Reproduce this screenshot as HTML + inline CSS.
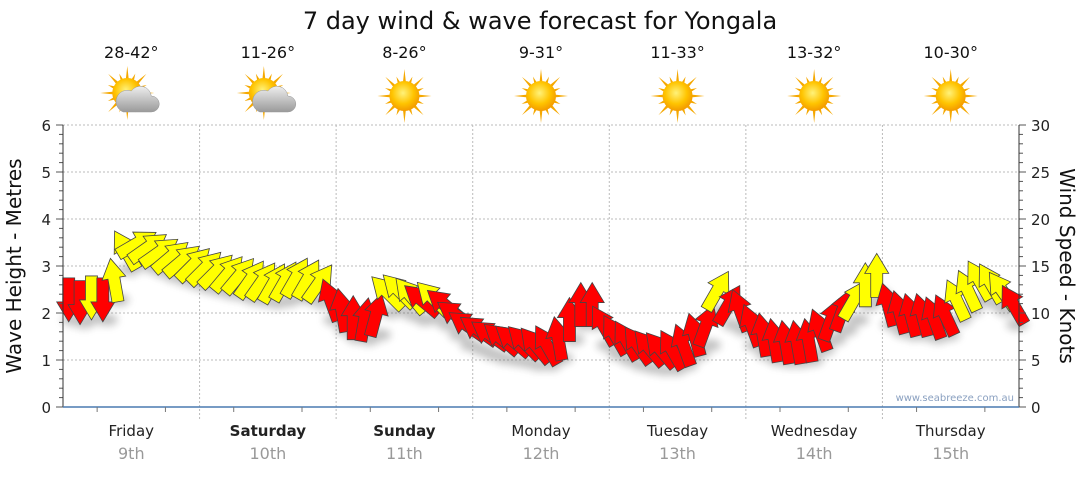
<!DOCTYPE html>
<html><head><meta charset="utf-8"><style>
body{margin:0;background:#fff;font-family:"Liberation Sans","DejaVu Sans",sans-serif}
svg text{font-family:"DejaVu Sans","Liberation Sans",sans-serif}
</style></head><body>
<svg id="c" width="1080" height="475" viewBox="0 0 1080 475" xmlns="http://www.w3.org/2000/svg">
<defs>
<filter id="sh" x="-50%" y="-50%" width="200%" height="200%"><feGaussianBlur stdDeviation="4"/></filter>
<radialGradient id="sun" cx="45%" cy="40%" r="60%"><stop offset="0" stop-color="#fff27a"/><stop offset="0.6" stop-color="#ffc400"/><stop offset="1" stop-color="#f39a00"/></radialGradient>
<linearGradient id="cloud" x1="0" y1="0" x2="0" y2="1"><stop offset="0" stop-color="#eee"/><stop offset="1" stop-color="#9a9a9a"/></linearGradient>
</defs>
<text x="540" y="29" text-anchor="middle" font-size="24" fill="#111">7 day wind &amp; wave forecast for Yongala</text>
<g id="grid"></g><g id="icons"></g><g id="shadows" filter="url(#sh)" opacity="0.35"></g><g id="marks"></g><g id="axes"></g>
<text x="1014" y="401" text-anchor="end" font-size="10" fill="#8aa0c0">www.seabreeze.com.au</text>
<text transform="translate(21,266) rotate(-90)" text-anchor="middle" font-size="20" fill="#111">Wave Height - Metres</text>
<text transform="translate(1060,266) rotate(90)" text-anchor="middle" font-size="20" fill="#111">Wind Speed - Knots</text>
</svg>
<script>
const days=["Friday","Saturday","Sunday","Monday","Tuesday","Wednesday","Thursday"];
const dates=["9th","10th","11th","12th","13th","14th","15th"];
const temps=["28-42°","11-26°","8-26°","9-31°","11-33°","13-32°","10-30°"];
const cloudy=[1,1,0,0,0,0,0];
const waveTicks=[0,1,2,3,4,5,6];
const windTicks=[0,5,10,15,20,25,30];
const windSpeed=[11.4,11.1,11.6,11.4,13.5,16.7,17.4,17.0,16.5,16.0,15.6,15.2,
14.8,14.5,14.2,14.0,13.6,13.4,13.2,13.4,13.8,13.6,13.2,11.4,
10.3,9.5,9.3,9.8,12.2,12.4,11.9,11.4,11.6,10.9,9.8,8.7,
8.2,7.7,7.3,7.1,6.9,6.6,6.6,7.3,9.3,10.9,10.9,8.7,
7.7,7.1,6.6,6.3,6.1,6.1,6.6,7.7,8.7,12.4,10.9,10.3,
8.7,7.7,7.1,6.9,6.9,7.1,8.2,9.3,10.3,11.4,13.0,14.0,
10.9,10.1,9.8,9.8,9.5,9.8,11.4,12.4,13.5,13.2,12.4,10.9];
const windDir=[180,180,180,180,-10,-30,60,55,55,50,50,45,
45,45,40,40,35,35,30,30,30,30,35,-20,
-10,0,10,15,-45,-45,-40,-50,-45,-50,-55,-55,
-55,-55,-50,-50,-45,-40,-30,-10,0,0,0,-30,
-30,-30,-35,-40,-40,-30,-20,-15,20,30,30,-20,
-20,-10,-10,-10,-10,-10,-20,20,20,30,0,0,
-15,-15,-15,-15,-20,-25,-25,-25,-30,-30,-35,-30];
const windCol=["R","R","Y","R","Y","Y","Y","Y","Y","Y","Y","Y",
"Y","Y","Y","Y","Y","Y","Y","Y","Y","Y","Y","R",
"R","R","R","R","Y","Y","Y","R","Y","R","R","R",
"R","R","R","R","R","R","R","R","R","R","R","R",
"R","R","R","R","R","R","R","R","R","Y","R","R",
"R","R","R","R","R","R","R","R","R","Y","Y","Y",
"R","R","R","R","R","R","Y","Y","Y","Y","Y","R"];
const NS="http://www.w3.org/2000/svg";
const X0=63,X1=1019,Y0=407,Y1=125;
const dayW=(X1-X0)/7;
function xT(i){return X0+(i+0.5)*(X1-X0)/windSpeed.length;}
function yW(m){return Y0-(Y0-Y1)*m/6;}
function yK(k){return Y0-(Y0-Y1)*k/30;}
function mk(p,tag,a){const e=document.createElementNS(NS,tag);for(const k in a)e.setAttribute(k,a[k]);p.appendChild(e);return e;}
const g=document.getElementById('grid'),ax=document.getElementById('axes'),ic=document.getElementById('icons');
waveTicks.forEach(t=>{if(t>0){const l=mk(g,'line',{x1:X0,x2:X1,y1:yW(t),y2:yW(t),stroke:'#bbb','stroke-dasharray':'2,2'});

}
const tx=mk(ax,'text',{x:X0-12,y:yW(t)+6,'text-anchor':'end','font-size':15,fill:'#222'});tx.textContent=t;

});
windTicks.forEach(t=>{const tx=mk(ax,'text',{x:X1+12,y:yK(t)+6,'font-size':15,fill:'#222'});tx.textContent=t;

});
for(let m=0;m<=30;m++){const y=Y0-(Y0-Y1)*m/30;const L=m%5==0?7:4;
mk(ax,'line',{x1:X0-L,x2:X0,y1:y,y2:y,stroke:'#555'});mk(ax,'line',{x1:X1,x2:X1+L,y1:y,y2:y,stroke:'#555'});}
mk(ax,'line',{x1:X0,x2:X0,y1:Y1,y2:Y0,stroke:'#333'});mk(ax,'line',{x1:X1,x2:X1,y1:Y1,y2:Y0,stroke:'#333'});
mk(ax,'line',{x1:X0,x2:X1,y1:Y0,y2:Y0,stroke:'#4a7ab0','stroke-width':1.5});
days.forEach((d,i)=>{const cx=X0+(i+0.5)*dayW;
if(i>0){const l=mk(g,'line',{x1:X0+i*dayW,x2:X0+i*dayW,y1:Y1,y2:Y0+14,stroke:'#bbb','stroke-dasharray':'2,2'});

}
mk(ax,'line',{x1:X0+i*dayW+dayW/4,x2:X0+i*dayW+dayW/4,y1:Y0,y2:Y0+5,stroke:'#777'});
mk(ax,'line',{x1:X0+i*dayW+dayW*3/4,x2:X0+i*dayW+dayW*3/4,y1:Y0,y2:Y0+5,stroke:'#777'});
const t1=mk(ax,'text',{x:cx,y:436,'text-anchor':'middle','font-size':15,fill:'#222','font-weight':(i==1||i==2)?'bold':'normal'});t1.textContent=d;


const t2=mk(ax,'text',{x:cx,y:459,'text-anchor':'middle','font-size':16,fill:'#999'});t2.textContent=dates[i];


const t3=mk(ic,'text',{x:cx,y:58,'text-anchor':'middle','font-size':16,fill:'#111'});t3.textContent=temps[i];


const w=mk(ic,'g',{transform:`translate(${cx},96)`});


const sx=cloudy[i]?-4:0,sy=cloudy[i]?-3:0;
for(let r=0;r<16;r++){const a=r*Math.PI/8,L=r%2?21:27;
mk(w,'polygon',{points:`${sx+Math.cos(a-0.12)*13},${sy+Math.sin(a-0.12)*13} ${sx+Math.cos(a)*L},${sy+Math.sin(a)*L} ${sx+Math.cos(a+0.12)*13},${sy+Math.sin(a+0.12)*13}`,fill:'#f5a800'});}
mk(w,'circle',{cx:sx,cy:sy,r:15,fill:'url(#sun)'});
if(cloudy[i]){mk(w,'path',{d:'M-8,16 h28 a8,8 0 0 0 0,-16 a11,11 0 0 0 -20,-5 a9,9 0 0 0 -8,21z',fill:'url(#cloud)',stroke:'#999','stroke-width':0.5});}
});
const mg=document.getElementById('marks'),sg=document.getElementById('shadows');
const P="0,-22 12,-2 6,-2 6,22 -6,22 -6,-2 -12,-2";
windSpeed.forEach((k,i)=>{const x=xT(i),y=yK(k);
mk(sg,'ellipse',{cx:x+4,cy:y+20,rx:11,ry:6,fill:'#555'});
const a=mk(mg,'polygon',{points:P,transform:`translate(${x},${y}) rotate(${windDir[i]})`,fill:windCol[i]=='R'?'#ff0000':'#ffff00',stroke:'#444','stroke-width':0.8});

});
</script>
</body></html>
